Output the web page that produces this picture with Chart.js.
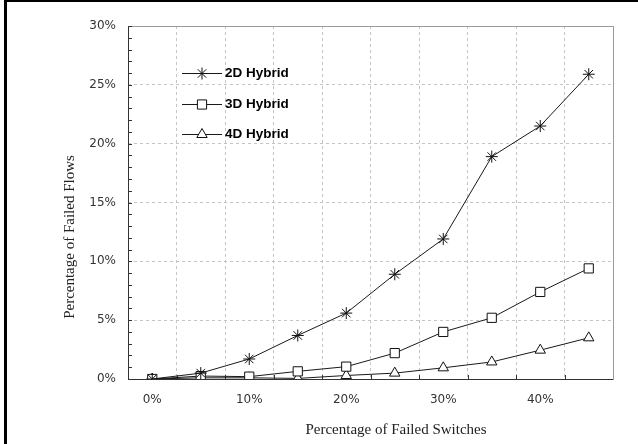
<!DOCTYPE html>
<html lang="en">
<head>
    <meta charset="UTF-8">
    <title>Failed Flows vs Failed Switches</title>
    <script src="https://cdn.jsdelivr.net/npm/chart.js"></script>
    <style>
        body { margin: 0; background: #fff; }
        .chart-box { position: relative; width: 638px; height: 444px; }
    </style>
</head>
<body>
    <div class="chart-box">
        <canvas id="failChart"></canvas>
    </div>

    <script>
        // Data (values in %)
        const xLabels = ['0%', '5%', '10%', '15%', '20%', '25%', '30%', '35%', '40%', '45%'];
        const hybrid2D = [0, 0.5, 1.7, 3.7, 5.6, 8.9, 11.9, 18.9, 21.5, 25.9];
        const hybrid3D = [0, 0.25, 0.2, 0.65, 1.05, 2.2, 4.0, 5.2, 7.4, 9.4];
        const hybrid4D = [0, 0.1, 0.1, 0.05, 0.3, 0.5, 0.95, 1.45, 2.45, 3.5];
        const seriesNames = ['2D Hybrid', '3D Hybrid', '4D Hybrid'];
        const yTicks = [0, 5, 10, 15, 20, 25, 30];

        const xTitle = 'Percentage of Failed Switches';
        const yTitle = 'Percentage of Failed Flows';

        function makeSet(label, data, style, radius) {
            return {
                label: label,
                data: data,
                borderColor: '#1a1a1a',
                borderWidth: 1,
                tension: 0,
                pointStyle: style,
                pointRadius: radius,
                pointBorderColor: '#111',
                pointBackgroundColor: '#fff',
                pointBorderWidth: 1
            };
        }

        // frame, minor ticks and page border
        const framePlugin = {
            id: 'frame',
            beforeDraw(chart) {
                const ctx = chart.ctx;
                ctx.save();
                ctx.fillStyle = '#000';
                ctx.fillRect(4, 0, 634, 2);
                ctx.fillRect(4, 0, 3, 444);
                ctx.restore();
            },
            beforeDatasetsDraw(chart) {
                const ctx = chart.ctx;
                const a = chart.chartArea;
                const xs = chart.scales.x, ys = chart.scales.y;
                ctx.save();
                ctx.lineWidth = 1;
                ctx.strokeStyle = '#9a9a9a';
                ctx.beginPath();
                ctx.moveTo(a.left, a.top + 0.5);
                ctx.lineTo(a.right + 0.5, a.top + 0.5);
                ctx.lineTo(a.right + 0.5, a.bottom);
                ctx.stroke();

                ctx.strokeStyle = '#333';
                ctx.beginPath();
                ctx.moveTo(a.left + 0.5, a.top);
                ctx.lineTo(a.left + 0.5, a.bottom + 0.5);
                ctx.lineTo(a.right + 0.5, a.bottom + 0.5);
                // small ticks on the y axis every 1%
                for (let v = ys.min; v <= ys.max; v++) {
                    const y = Math.round(ys.getPixelForValue(v)) + 0.5;
                    ctx.moveTo(a.left, y);
                    ctx.lineTo(a.left + 4, y);
                }
                // ticks on the x axis between categories
                for (let i = 1; i < xLabels.length; i++) {
                    const x = Math.round((xs.getPixelForValue(i - 1) + xs.getPixelForValue(i)) / 2) + 0.5;
                    ctx.moveTo(x, a.bottom);
                    ctx.lineTo(x, a.bottom - 4);
                }
                ctx.stroke();
                ctx.restore();
            },
            afterDraw(chart) {
                const ctx = chart.ctx;
                ctx.save();
                // axis titles
                ctx.fillStyle = '#222';
                ctx.font = '15px "Liberation Serif", "Times New Roman", serif';
                ctx.textAlign = 'center';
                ctx.textBaseline = 'middle';
                ctx.fillText(xTitle, 396, 430);
                ctx.translate(70, 237);
                ctx.rotate(-Math.PI / 2);
                ctx.fillText(yTitle, 0, 0);
                ctx.setTransform(1, 0, 0, 1, 0, 0);

                // legend inside the plot
                ctx.font = 'bold 13.5px "Liberation Sans", Arial, sans-serif';
                ctx.textAlign = 'left';
                chart.data.datasets.forEach((ds, i) => {
                    const y = 73 + i * 30.5;
                    ctx.strokeStyle = ds.borderColor;
                    ctx.lineWidth = 1;
                    ctx.beginPath();
                    ctx.moveTo(182, Math.round(y) + 0.5);
                    ctx.lineTo(222, Math.round(y) + 0.5);
                    ctx.stroke();
                    ctx.strokeStyle = ds.pointBorderColor;
                    ctx.fillStyle = ds.pointBackgroundColor;
                    Chart.helpers.drawPoint(ctx, {
                        pointStyle: ds.pointStyle,
                        rotation: 0,
                        radius: ds.pointRadius,
                        borderWidth: 1
                    }, 202, Math.round(y) + 0.5);
                    ctx.fillStyle = '#000';
                    ctx.fillText(ds.label, 225, y + 0.5);
                });
                ctx.restore();
            }
        };

        window.onload = function() {
            new Chart(document.getElementById('failChart'), {
                type: 'line',
                data: {
                    labels: xLabels,
                    datasets: [
                        makeSet(seriesNames[0], hybrid2D, 'star', 6),
                        makeSet(seriesNames[1], hybrid3D, 'rect', 6.5),
                        makeSet(seriesNames[2], hybrid4D, 'triangle', 6)
                    ]
                },
                options: {
                    responsive: true,
                    maintainAspectRatio: false,
                    animation: false,
                    layout: {
                        padding: { top: 26, right: 25, left: 0, bottom: 0 }
                    },
                    plugins: {
                        legend: { display: false },
                        tooltip: { enabled: false }
                    },
                    scales: {
                        x: {
                            type: 'category',
                            offset: true,
                            grid: {
                                offset: true,
                                color: '#c4c4c4',
                                lineWidth: 1,
                                drawTicks: false
                            },
                            border: { display: false, dash: [3, 3] },
                            ticks: {
                                autoSkip: false,
                                maxRotation: 0,
                                padding: 14,
                                color: '#333',
                                font: { family: '"DejaVu Sans", sans-serif', size: 12 },
                                callback: function(v, i) {
                                    return i % 2 === 0 ? xLabels[i] : '';
                                }
                            },
                            afterFit: function(s) { s.height = 65; }
                        },
                        y: {
                            min: yTicks[0],
                            max: yTicks[yTicks.length - 1],
                            grid: {
                                color: '#c4c4c4',
                                lineWidth: 1,
                                drawTicks: false
                            },
                            border: { display: false, dash: [3, 3] },
                            ticks: {
                                stepSize: 5,
                                padding: 12,
                                color: '#333',
                                font: { family: '"DejaVu Sans", sans-serif', size: 12 },
                                callback: function(v) { return v + '%'; }
                            },
                            afterFit: function(s) { s.width = 128; }
                        }
                    }
                },
                plugins: [framePlugin]
            });
        };
    </script>
</body>
</html>
